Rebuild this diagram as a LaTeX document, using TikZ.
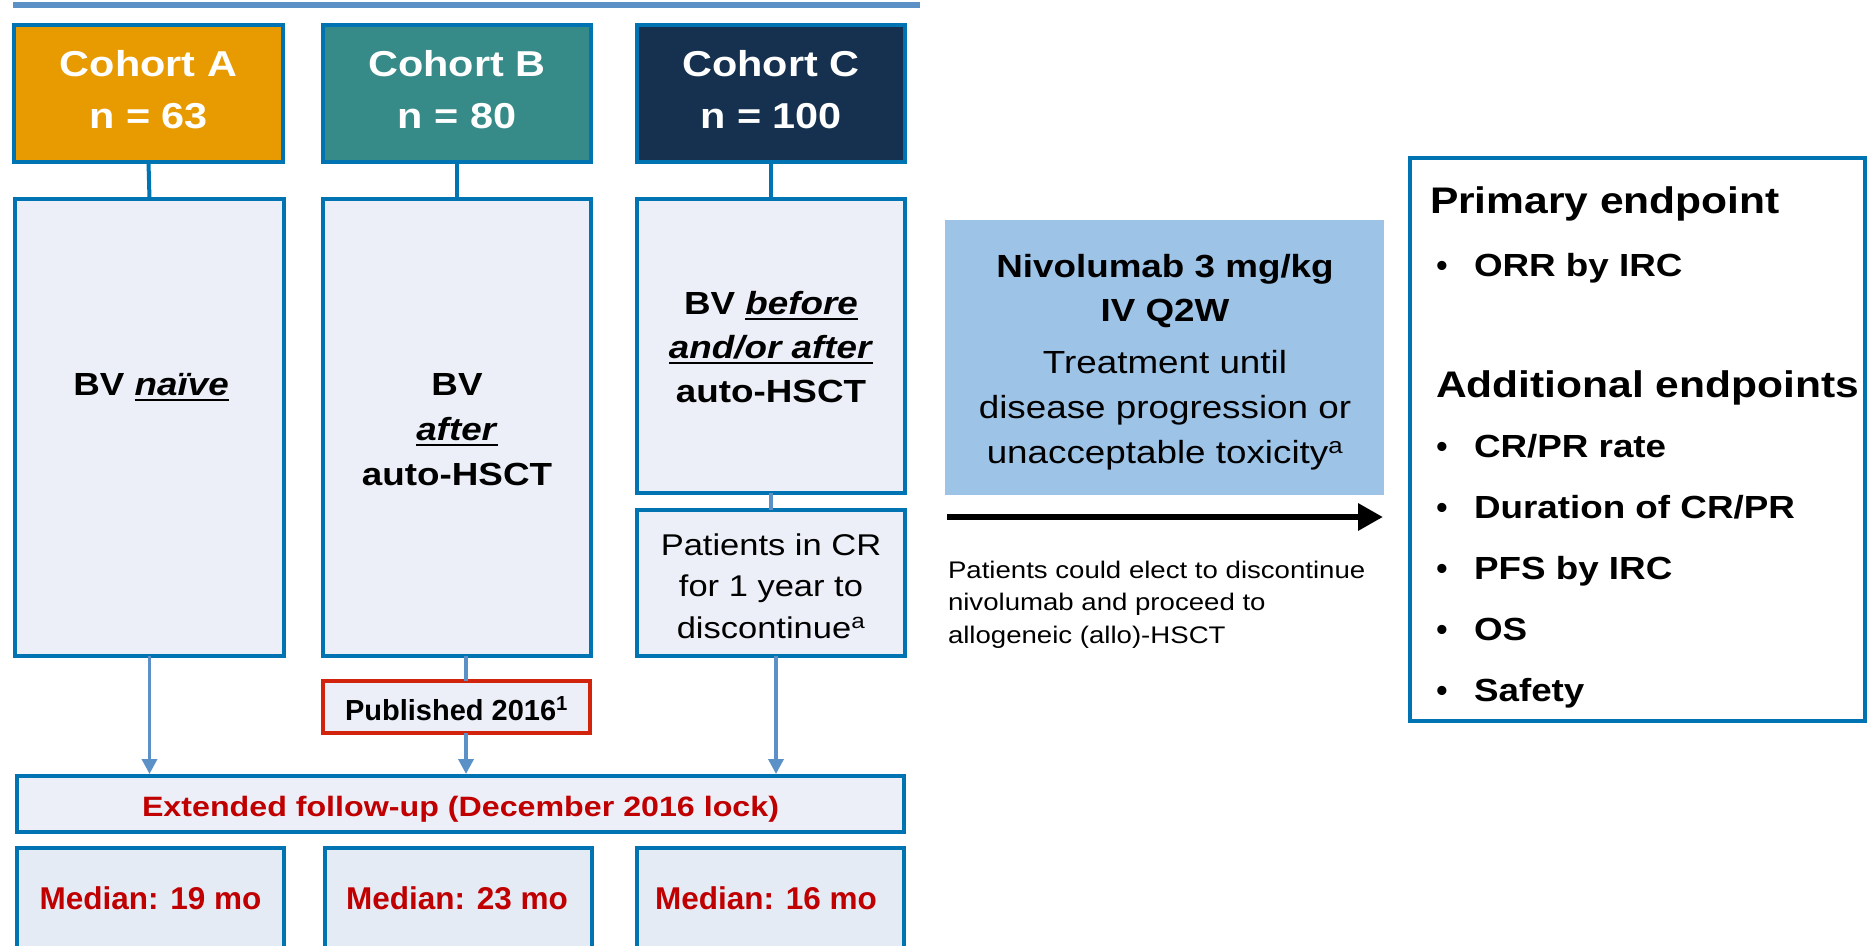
\documentclass[tikz,border=0pt]{standalone}
\usepackage{fontspec}
\setmainfont{Liberation Sans}
\newfontfamily\wf[FakeStretch=1.15]{Liberation Sans}
\usetikzlibrary{arrows.meta}
\definecolor{bord}{RGB}{0,116,178}
\definecolor{fillL}{RGB}{236,239,247}
\definecolor{fillM}{RGB}{228,235,245}
\definecolor{arr}{RGB}{92,145,200}
\definecolor{orA}{RGB}{232,155,0}
\definecolor{tlB}{RGB}{54,138,135}
\definecolor{nvC}{RGB}{21,49,79}
\definecolor{nivf}{RGB}{157,195,230}
\definecolor{pubred}{RGB}{210,35,12}
\definecolor{txred}{RGB}{192,0,0}
\newcommand\cstack[1]{\begin{tabular}[t]{@{}c@{}}#1\end{tabular}}
\newcommand\lstack[1]{\begin{tabular}[t]{@{}l@{}}#1\end{tabular}}
\newcommand\myul[1]{\setbox0=\hbox{#1}\rlap{\rule[-5.5pt]{\wd0}{2pt}}\box0}
\newcommand\bx[6]{\node[#2,anchor=north west,minimum width={#5pt-#3pt},minimum height={#6pt-#4pt}] (#1) at (#3,#4) {};}
\begin{document}
\begin{tikzpicture}[x=1pt,y=-1pt,
  box/.style={draw=bord,line width=4.5pt,fill=fillL,inner sep=0pt,outer sep=0pt,rectangle},
  conn/.style={draw=bord,line width=4pt},
  connL/.style={draw=arr,line width=3.5pt},
  flow/.style={draw=arr,line width=3.5pt,shorten >=2pt,-{Triangle[length=15pt,width=15pt]}},
  txt/.style={anchor=base,inner sep=0pt,outer sep=0pt},
  cohorttxt/.style={txt,text=white,font={\wf\bfseries\fontsize{36}{52}\selectfont}},
  bvtxt/.style={txt,font={\wf\bfseries\fontsize{32}{45}\selectfont}},
  medtxt/.style={txt,text=txred,font={\bfseries\fontsize{31.5}{38}\selectfont}},
  eptxt/.style={txt,anchor=base west,font={\wf\bfseries\fontsize{32}{38}\selectfont}},
  hdtxt/.style={txt,anchor=base west,font={\wf\bfseries\fontsize{37}{44}\selectfont}}]
\path[use as bounding box,clip] (0,0) rectangle (1868,945);
% top rule
\coordinate (tl1) at (13,5);
\coordinate (tl2) at (920,5);
\draw[draw=arr,line width=6pt] (tl1) -- (tl2);
% boxes
\bx{cA}{box,fill=orA}{14}{25}{283}{162}
\bx{cB}{box,fill=tlB}{323}{25}{591}{162}
\bx{cC}{box,fill=nvC}{637}{25}{905}{162}
\bx{bA}{box}{15}{199}{284}{656}
\bx{bB}{box}{323}{199}{591}{656}
\bx{bC}{box}{637}{199}{905}{493}
\bx{bD}{box}{637}{510}{905}{656}
\bx{pub}{box,draw=pubred}{323}{681}{590}{733}
\bx{ext}{box}{17}{776}{904}{832}
\bx{mA}{box,fill=fillM}{17}{848}{284}{990}
\bx{mB}{box,fill=fillM}{325}{848}{592}{990}
\bx{mC}{box,fill=fillM}{637}{848}{904}{990}
\bx{niv}{box,draw=none,fill=nivf}{945}{220}{1384}{495}
\bx{endp}{box,fill=white}{1410}{158}{1865}{721}
% connectors
\draw[conn] (cA.south) -- (bA.north);
\draw[conn] (cB.south) -- (bB.north);
\draw[conn] (cC.south) -- (bC.north);
\draw[connL] (bC.south) -- (bD.north);
\draw[flow] (bA.south) -- (bA.south |- ext.north);
\coordinate (bBo) at ([xshift=9pt]bB.south);
\draw[connL] (bBo) -- (bBo |- pub.north);
\draw[flow] (bBo |- pub.south) -- (bBo |- ext.north);
\coordinate (bDo) at ([xshift=5pt]bD.south);
\draw[flow] (bDo) -- (bDo |- ext.north);
\coordinate (ba1) at (947,517);
\coordinate (ba2) at (1383,517);
\draw[line width=6.5pt,-{Triangle[length=25pt,width=26pt]}] (ba1) -- (ba2);
% texts
\node[cohorttxt] (tA) at (148.5,76) {\cstack{Cohort A\\n = 63}};
\node[cohorttxt] (tB) at (457,76) {\cstack{Cohort B\\n = 80}};
\node[cohorttxt] (tC) at (771,76) {\cstack{Cohort C\\n = 100}};
\node[bvtxt] (lA) at (151,395.5) {BV \myul{\textit{naïve}}};
\node[bvtxt] (lB) at (457,395) {\cstack{BV\\\myul{\textit{after}}\\auto-HSCT}};
\node[bvtxt,font={\wf\bfseries\fontsize{32}{44}\selectfont}] (lC) at (771,314) {\cstack{BV \myul{\textit{before}}\\\myul{\textit{and/or after}}\\auto-HSCT}};
\node[txt,font={\wf\fontsize{30}{41.5}\selectfont}] (lD) at (771,555) {\cstack{Patients in CR\\for 1 year to\\discontinue\textsuperscript{a}}};
\node[txt,font={\bfseries\fontsize{29}{34}\selectfont}] (tpub) at (456.5,720) {Published 2016\textsuperscript{1}};
\node[txt,text=txred,font={\wf\bfseries\fontsize{28}{34}\selectfont}] (text) at (460.5,816) {Extended follow-up (December 2016 lock)};
\node[medtxt] (tmA) at (150.5,909) {Median: 19 mo};
\node[medtxt] (tmB) at (457,909) {Median: 23 mo};
\node[medtxt] (tmC) at (766,909) {Median: 16 mo};
\node[txt,font={\wf\bfseries\fontsize{32}{44.5}\selectfont}] (tniv) at (1165,277) {\cstack{Nivolumab 3 mg/kg\\IV Q2W}};
\node[txt,font={\wf\fontsize{32}{45}\selectfont}] (tniv2) at (1165,373) {\cstack{Treatment until\\disease progression or\\unacceptable toxicity\textsuperscript{a}}};
\node[txt,anchor=base west,font={\wf\fontsize{24}{32.5}\selectfont}] (telect) at (948,578) {\lstack{Patients could elect to discontinue\\nivolumab and proceed to\\allogeneic (allo)-HSCT}};
\node[hdtxt] (hp) at (1430,213) {Primary endpoint};
\node[hdtxt] (ha) at (1436,397) {Additional endpoints};
\foreach \yy/\tt [count=\i] in {276/{ORR by IRC},457/{CR/PR rate},518/{Duration of CR/PR},579/{PFS by IRC},640/{OS},701/{Safety}}{
  \node[txt,font={\bfseries\fontsize{32}{38}\selectfont}] (bu\i) at (1442,\yy) {•};
  \node[eptxt] (ep\i) at (1474,\yy) {\tt};
}
\end{tikzpicture}
\end{document}
